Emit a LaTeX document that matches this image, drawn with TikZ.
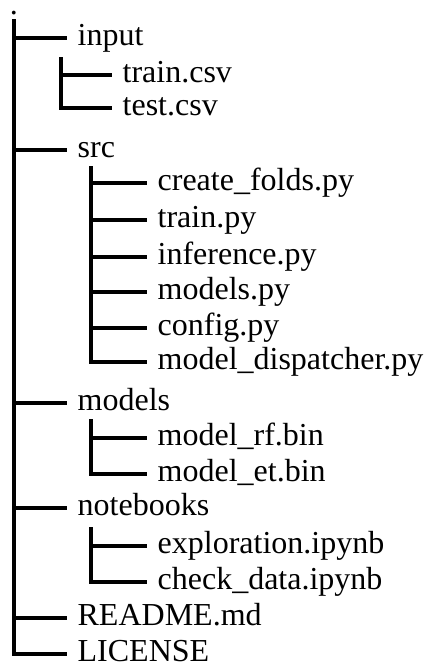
\documentclass[tikz,border=0pt]{standalone}
\usepackage{fontspec}
\setmainfont{Liberation Serif}

\begin{document}
\begin{tikzpicture}[x=0.5pt, y=-0.5pt, line width=1.65pt,
		file/.style={anchor=west, inner xsep=4.5pt, inner ysep=0pt,
			text height=7pt, text depth=0pt, font=\fontsize{16}{19}\selectfont}]
	\useasboundingbox (0, 0) rectangle (444, 670);

	\node [anchor=base, inner sep=0pt, font=\fontsize{16}{19}\selectfont] (dot) at (14, 14) {.};
	\coordinate (top) at (14, 19);

	\node [file] (input) at (67, 38) {input};
	\coordinate (inputtrunk) at (61, 57);
	\node [file] (traincsv) at (112, 75) {train.csv};
	\node [file] (testcsv) at (112, 108) {test.csv};

	\node [file] (src) at (67, 150) {src};
	\coordinate (srctrunk) at (91, 166);
	\node [file] (createfolds) at (147, 183) {create\_folds.py};
	\node [file] (trainpy) at (147, 220) {train.py};
	\node [file] (inference) at (147, 257) {inference.py};
	\node [file] (modelspy) at (147, 292) {models.py};
	\node [file] (config) at (147, 328) {config.py};
	\node [file] (dispatcher) at (147, 362) {model\_dispatcher.py};

	\node [file] (models) at (67, 403) {models};
	\coordinate (modelstrunk) at (91, 419);
	\node [file] (modelrf) at (147, 438) {model\_rf.bin};
	\node [file] (modelet) at (147, 474) {model\_et.bin};

	\node [file] (notebooks) at (67, 508) {notebooks};
	\coordinate (notebookstrunk) at (91, 527);
	\node [file] (exploration) at (147, 546) {exploration.ipynb};
	\node [file] (checkdata) at (147, 582) {check\_data.ipynb};

	\node [file] (readme) at (67, 618) {README.md};
	\node [file] (license) at (67, 654) {LICENSE};

	% main trunk
	\draw (top) |- (input.west);
	\draw (top) |- (src.west);
	\draw (top) |- (models.west);
	\draw (top) |- (notebooks.west);
	\draw (top) |- (readme.west);
	\draw (top) |- (license.west);

	% input
	\draw (inputtrunk) |- (traincsv.west);
	\draw (inputtrunk) |- (testcsv.west);

	% src
	\draw (srctrunk) |- (createfolds.west);
	\draw (srctrunk) |- (trainpy.west);
	\draw (srctrunk) |- (inference.west);
	\draw (srctrunk) |- (modelspy.west);
	\draw (srctrunk) |- (config.west);
	\draw (srctrunk) |- (dispatcher.west);

	% models
	\draw (modelstrunk) |- (modelrf.west);
	\draw (modelstrunk) |- (modelet.west);

	% notebooks
	\draw (notebookstrunk) |- (exploration.west);
	\draw (notebookstrunk) |- (checkdata.west);
\end{tikzpicture}
\end{document}
